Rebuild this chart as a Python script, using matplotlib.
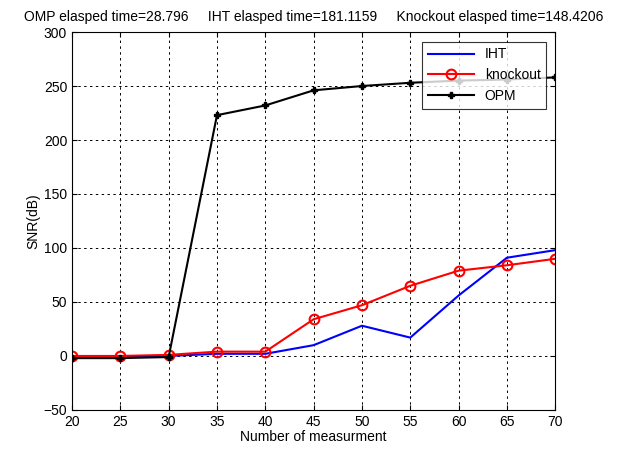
import numpy as np
from matplotlib import pyplot as plt

plt.rcParams['font.family'] = ['Liberation Sans', 'DejaVu Sans']

m = [20, 25, 30, 35, 40, 45, 50, 55, 60, 65, 70]
snr_iht = [-1, -1, 0, 2, 2, 10, 28, 17, 56, 91, 98]
snr_knock = [0, 0, 1, 4, 4, 34, 47, 65, 79, 84, 90]
snr_opm = [-2, -2, -1, 223, 232, 246, 250, 253, 255, 256, 258]

fig = plt.figure(figsize=(6.26, 4.51), dpi=100)
ax = fig.add_axes([0.115, 0.091, 0.772, 0.838])

ax.plot(m, snr_iht, 'b', lw=1.5, label='IHT')
ax.plot(m, snr_knock, 'r-o', lw=1.5, ms=7, mfc='none', mew=1.5, label='knockout')
ax.plot(m, snr_opm, 'k-P', lw=1.5, ms=5, label='OPM')

ax.set_xlim(20, 70)
ax.set_ylim(-50, 300)
ax.set_xticks(range(20, 71, 5))
ax.set_yticks(range(-50, 301, 50))
ax.grid(True, color='k', linestyle=(0, (2.5, 3.5)), lw=0.7)
ax.tick_params(direction='in', top=True, right=True, labelsize=10)
ax.set_xlabel('Number of measurment', fontsize=10, labelpad=1)
ax.set_ylabel('SNR(dB)', fontsize=10, labelpad=2)
ax.set_title('OMP elasped time=28.796     IHT elasped time=181.1159     Knockout elasped time=148.4206',
             fontsize=10, pad=8)

leg = ax.legend(loc='upper right', bbox_to_anchor=(0.99, 0.985), fancybox=False,
                edgecolor='k', fontsize=10, handlelength=3.3, borderaxespad=0.3)
leg.get_frame().set_linewidth(0.8)

fig.savefig('out.png')
